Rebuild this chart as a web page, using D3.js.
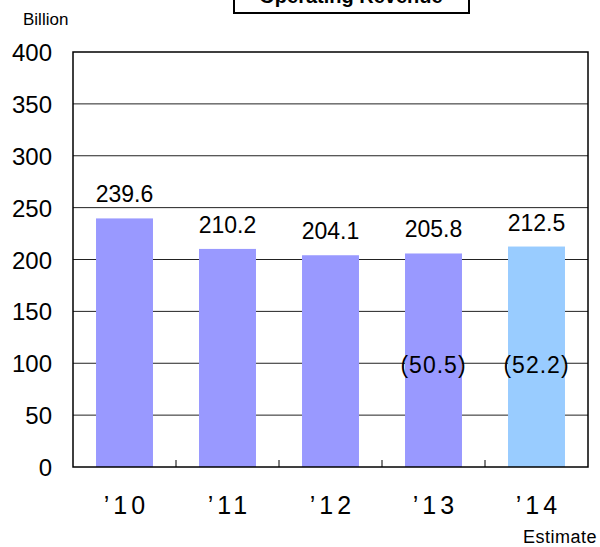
<!DOCTYPE html>
<html>
<head>
<meta charset="utf-8">
<script src="https://cdn.jsdelivr.net/npm/d3@7"></script>
<style>
  body { margin: 0; background: #fff; }
  svg { font-family: "Liberation Sans", Arial, sans-serif; }
</style>
</head>
<body>
<svg id="chart" width="600" height="547"></svg>
<script>
const years = ["’10", "’11", "’12", "’13", "’14"];
const revenue = [239.6, 210.2, 204.1, 205.8, 212.5];
const inner = [null, null, null, 50.5, 52.2];
const barColors = ["#9999ff", "#9999ff", "#9999ff", "#9999ff", "#99ccff"];
const yTicks = [0, 50, 100, 150, 200, 250, 300, 350, 400];

const svg = d3.select("#chart");
const plotLeft = 73, plotRight = 588, plotTop = 52, plotBottom = 467;

const x = d3.scaleBand().domain(years).range([plotLeft, plotRight]).paddingInner(0.447).paddingOuter(0.2235);
const band = d3.scaleBand().domain(years).range([plotLeft, plotRight]);
const y = d3.scaleLinear().domain([0, 400]).range([plotBottom, plotTop]);

// gridlines
svg.selectAll("line.grid")
    .data(yTicks.filter(d => d > 0 && d < 400))
    .enter()
    .append("line")
    .attr("x1", plotLeft).attr("x2", plotRight)
    .attr("y1", d => y(d)).attr("y2", d => y(d))
    .attr("stroke", "#222").attr("stroke-width", 1);

// bars
svg.selectAll("rect.bar")
    .data(revenue)
    .enter()
    .append("rect")
    .attr("x", (d, i) => x(years[i]))
    .attr("y", d => y(d))
    .attr("width", x.bandwidth())
    .attr("height", d => plotBottom - y(d))
    .attr("fill", (d, i) => barColors[i]);

// plot frame
svg.append("rect")
    .attr("x", plotLeft).attr("y", plotTop)
    .attr("width", plotRight - plotLeft).attr("height", plotBottom - plotTop)
    .attr("fill", "none").attr("stroke", "#000").attr("stroke-width", 1.5);

// category separators on x axis
svg.selectAll("line.sep")
    .data(years.slice(1))
    .enter()
    .append("line")
    .attr("x1", d => band(d)).attr("x2", d => band(d))
    .attr("y1", plotBottom).attr("y2", plotBottom - 7)
    .attr("stroke", "#000");

// y labels
svg.selectAll("text.ytick")
    .data(yTicks)
    .enter()
    .append("text")
    .attr("x", 52)
    .attr("y", d => y(d) + 9)
    .attr("text-anchor", "end")
    .attr("font-size", 24)
    .text(d => d);

// value labels
svg.selectAll("text.val")
    .data(revenue)
    .enter()
    .append("text")
    .attr("x", (d, i) => x(years[i]) + x.bandwidth() / 2)
    .attr("y", d => y(d) - 16)
    .attr("text-anchor", "middle")
    .attr("font-size", 23)
    .text(d => d.toFixed(1));

const innerData = inner.map((v, i) => ({ v, year: years[i] })).filter(d => d.v !== null);
svg.selectAll("text.inner")
    .data(innerData)
    .enter()
    .append("text")
    .attr("x", d => x(d.year) + x.bandwidth() / 2)
    .attr("y", 373)
    .attr("text-anchor", "middle")
    .attr("font-size", 23)
    .attr("letter-spacing", 1)
    .text(d => "(" + d.v.toFixed(1) + ")");

// x labels
svg.selectAll("text.xlab")
    .data(years)
    .enter()
    .append("text")
    .attr("x", d => band(d) + band.bandwidth() / 2 + 2)
    .attr("y", 514)
    .attr("text-anchor", "middle")
    .attr("font-size", 25)
    .attr("letter-spacing", 4)
    .text(d => d);

svg.append("text").attr("x", 597).attr("y", 543)
    .attr("text-anchor", "end").attr("font-size", 18).attr("letter-spacing", 0.5).text("Estimate");

svg.append("text").attr("x", 23).attr("y", 25)
    .attr("font-size", 17).text("Billion");

// title box
svg.append("rect")
    .attr("x", 234).attr("y", -10).attr("width", 235).attr("height", 23)
    .attr("fill", "#fff").attr("stroke", "#000").attr("stroke-width", 2);
svg.append("text").attr("x", 351).attr("y", 3)
    .attr("text-anchor", "middle").attr("font-size", 20).attr("font-weight", "bold")
    .text("Operating Revenue");
</script>
</body>
</html>
